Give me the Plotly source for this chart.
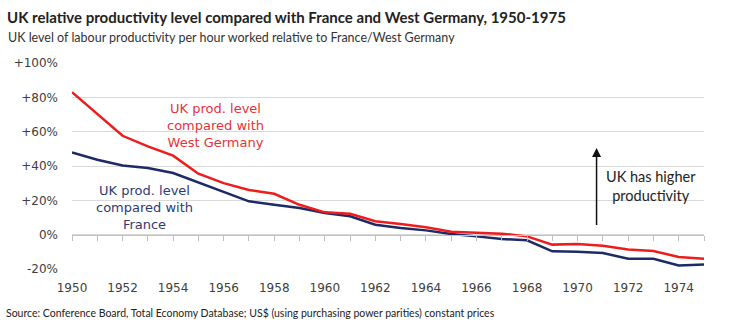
import plotly.graph_objects as go

years = list(range(1950, 1976))
vs_germany = [83, 70.5, 57.6, 51.4, 46, 35.5, 30, 26, 23.8, 17.4, 13, 12.2, 7.8, 6.2, 4.3, 1.7, 1.0, 0.6, -1.0,
              -5.8, -5.4, -6.4, -8.7, -9.5, -13, -14.1]
vs_france = [47.9, 43.6, 40.3, 38.8, 35.9, 30.4, 24.6, 19.4, 17.4, 15.5, 12.6, 10.7, 5.8, 3.9, 2.5, 0.4, -1.0, -2.5,
             -3.3, -9.7, -9.9, -10.7, -14, -14, -18, -17.4]
y_tickvals = [-20, 0, 20, 40, 60, 80, 100]
y_ticktext = ["-20%", "0%", "+20%", "+40%", "+60%", "+80%", "+100%"]
x_tickvals = list(range(1950, 1976, 2))

title = "UK relative productivity level compared with France and West Germany, 1950-1975"
subtitle = "UK level of labour productivity per hour worked relative to France/West Germany"
source = "Source: Conference Board, Total Economy Database; US$ (using purchasing power parities) constant prices"

RED = "#ee1c1c"
BLUE = "#1c2a66"

W, H = 730, 329
ML, MR, MT, MB = 72, 26, 63, 60
YMIN, YMAX = -20, 100


def px_x(p):
    return (p - ML) / (W - ML - MR)


def px_y(p):
    return (H - MB - p) / (H - MT - MB)


fig = go.Figure()
fig.add_trace(go.Scatter(x=years, y=vs_france, mode="lines", line=dict(color=BLUE, width=2.5),
                         showlegend=False, hoverinfo="skip"))
fig.add_trace(go.Scatter(x=years, y=vs_germany, mode="lines", line=dict(color=RED, width=2.5),
                         showlegend=False, hoverinfo="skip", xaxis="x2"))

fig.update_layout(
    width=W, height=H,
    margin=dict(l=ML, r=MR, t=MT, b=MB),
    paper_bgcolor="white", plot_bgcolor="white",
    xaxis=dict(range=[1950, 1975], tickvals=x_tickvals, ticks="", showgrid=False, showline=False,
               zeroline=False, ticklabelstandoff=10,
               tickfont=dict(family="DejaVu Sans", size=12, color="#404040")),
    xaxis2=dict(range=[1950, 1975], overlaying="x", anchor="free",
                position=(0 - YMIN) / (YMAX - YMIN), side="bottom",
                showline=True, linecolor="#bfbfbf", linewidth=1, ticks="outside", ticklen=5,
                tickcolor="#bfbfbf", dtick=1, tick0=1950, showticklabels=False, showgrid=False,
                zeroline=False),
    yaxis=dict(range=[YMIN, YMAX], tickvals=y_tickvals, ticktext=y_ticktext, showgrid=True,
               gridcolor="#d9d9d9", gridwidth=1, zeroline=False, showline=False, ticks="",
               ticklabelstandoff=13,
               tickfont=dict(family="DejaVu Sans", size=12, color="#404040")),
)

annotations = [
    dict(text="<b>" + title + "</b>", xref="paper", yref="paper", x=px_x(5), y=px_y(17),
         xanchor="left", yanchor="middle", showarrow=False,
         font=dict(family="Lato", size=15, color="#222222")),
    dict(text=subtitle, xref="paper", yref="paper", x=px_x(6), y=px_y(37),
         xanchor="left", yanchor="middle", showarrow=False,
         font=dict(family="Lato", size=12.5, color="#333333")),
    dict(text=source, xref="paper", yref="paper", x=px_x(4), y=px_y(313),
         xanchor="left", yanchor="middle", showarrow=False,
         font=dict(family="Lato", size=10.5, color="#222222")),
    dict(text="UK prod. level<br>compared with<br>West Germany", x=1955.67, y=63.4,
         xref="x", yref="y", showarrow=False, align="center",
         font=dict(family="DejaVu Sans", size=13, color="#e8323a")),
    dict(text="UK prod. level<br>compared with<br>France", x=1952.86, y=15.7,
         xref="x", yref="y", showarrow=False, align="center",
         font=dict(family="DejaVu Sans", size=13, color="#2e3a78")),
    dict(text="", x=1970.75, y=50.5, ax=1970.75, ay=4.7, xref="x", yref="y", axref="x", ayref="y",
         showarrow=True, arrowhead=2, arrowsize=1.2, arrowwidth=1.5, arrowcolor="#111111"),
    dict(text="UK has higher<br>productivity", x=1972.9, y=28.5, xref="x", yref="y",
         showarrow=False, align="center",
         font=dict(family="Lato", size=14.5, color="#222222")),
]
fig.update_layout(annotations=annotations)

fig.write_html("out.html")
